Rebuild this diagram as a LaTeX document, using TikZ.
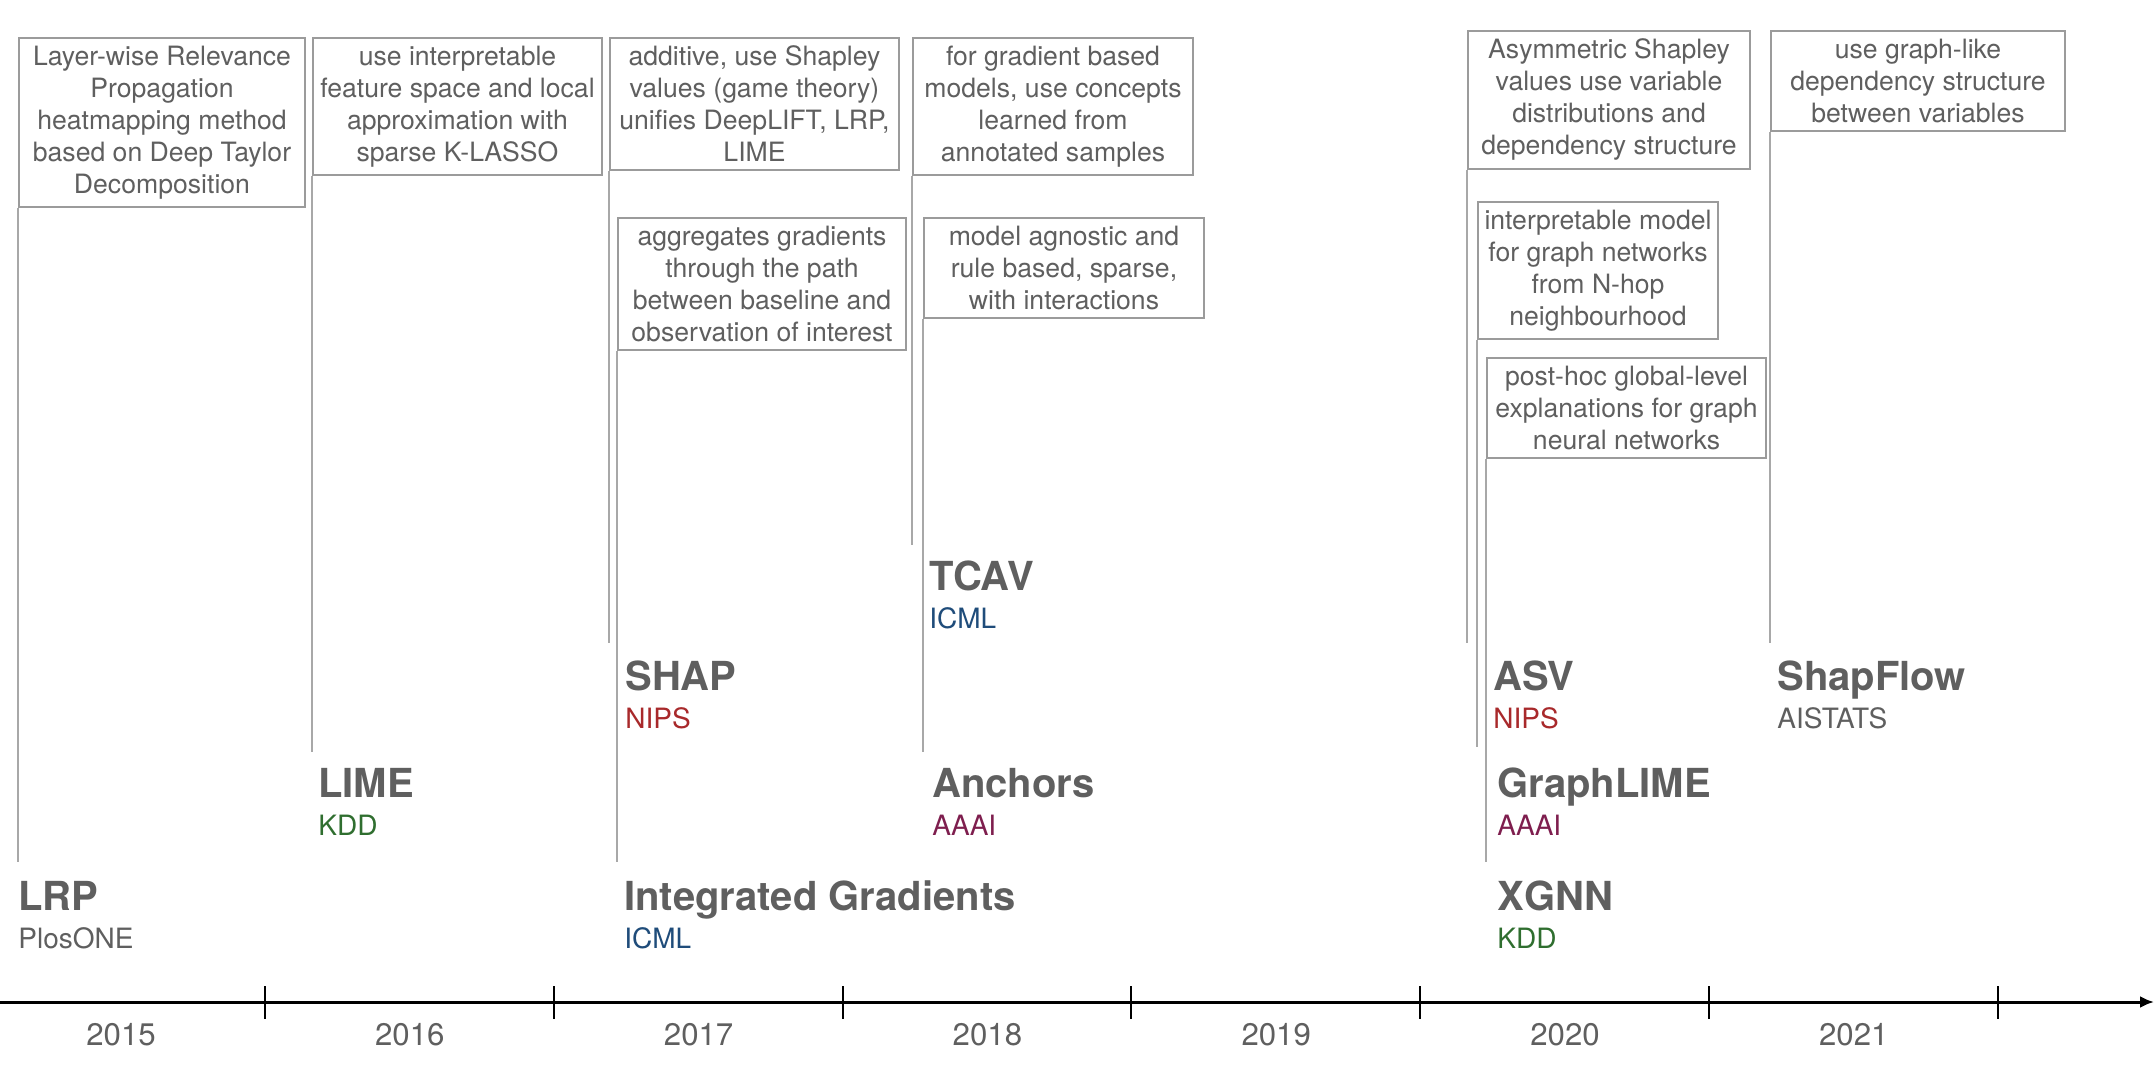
\documentclass[tikz,border=0pt]{standalone}
\usepackage{fontspec}
\setmainfont{TeX Gyre Heros}
\usetikzlibrary{arrows.meta}
\definecolor{txtgray}{HTML}{5F5F5F}
\definecolor{boxgray}{HTML}{9B9B9B}
\definecolor{stemgray}{HTML}{A8A8A8}
\definecolor{nipsred}{HTML}{A8292B}
\definecolor{kddgreen}{HTML}{2F6E2F}
\definecolor{icmlblue}{HTML}{1F4C7A}
\definecolor{aaaiplum}{HTML}{7E1E4E}

\tikzset{
  descbox/.style={draw=boxgray, line width=1pt, fill=white, text=txtgray, align=center,
    anchor=north west, inner xsep=2pt, inner ysep=4pt, font=\fontsize{13.3}{16}\selectfont},
  method/.style={anchor=base west, inner sep=0pt, text=txtgray, font=\fontsize{20}{24}\selectfont\bfseries},
  venue/.style={anchor=base west, inner sep=0pt, font=\fontsize{14}{17}\selectfont},
  stem/.style={draw=stemgray, line width=1pt},
  yearlbl/.style={anchor=base, text=txtgray, font=\fontsize{15.6}{18}\selectfont},
}

\begin{document}
\begin{tikzpicture}[x=0.5pt, y=-0.5pt]
    \useasboundingbox (0,0) rectangle (2156,1090);

    % Description boxes
    \node[descbox, minimum width=143pt] (lrpbox) at (18,37) {Layer-wise Relevance\\Propagation\\heatmapping method\\based on Deep Taylor\\Decomposition};
    \node[descbox, minimum width=144.5pt] (limebox) at (312,37) {use interpretable\\feature space and local\\approximation with\\sparse K-LASSO};
    \node[descbox, minimum width=144.5pt] (shapbox) at (609,37) {additive, use Shapley\\values (game theory)\\unifies DeepLIFT, LRP,\\LIME};
    \node[descbox, minimum width=140pt] (tcavbox) at (912,37) {for gradient based\\models, use concepts\\learned from\\annotated samples};
    \node[descbox, minimum width=144pt] (igbox) at (617,217) {aggregates gradients\\through the path\\between baseline and\\observation of interest};
    \node[descbox, minimum width=140pt] (anchorsbox) at (923,217) {model agnostic and\\rule based, sparse,\\with interactions};
    \node[descbox, minimum width=141pt] (asvbox) at (1467,30) {Asymmetric Shapley\\values use variable\\distributions and\\dependency structure};
    \node[descbox, minimum width=147pt] (shapflowbox) at (1770,30) {use graph-like\\dependency structure\\between variables};
    \node[descbox, minimum width=120pt] (graphlimebox) at (1477,201) {interpretable model\\for graph networks\\from N-hop\\neighbourhood};
    \node[descbox, minimum width=139.5pt] (xgnnbox) at (1486,357) {post-hoc global-level\\explanations for graph\\neural networks};

    % Stem ends
    \coordinate (lrpend) at (18,862);
    \coordinate (limeend) at (312,752);
    \coordinate (shapend) at (609,643);
    \coordinate (tcavend) at (912,545);
    \coordinate (igend) at (617,862);
    \coordinate (anchorsend) at (923,752);
    \coordinate (asvend) at (1467,643);
    \coordinate (shapflowend) at (1770,643);
    \coordinate (graphlimeend) at (1477,747);
    \coordinate (xgnnend) at (1486,862);

    % Stems
    \draw[stem] (lrpbox.south west) -- (lrpend);
    \draw[stem] (limebox.south west) -- (limeend);
    \draw[stem] (shapbox.south west) -- (shapend);
    \draw[stem] (tcavbox.south west) -- (tcavend);
    \draw[stem] (igbox.south west) -- (igend);
    \draw[stem] (anchorsbox.south west) -- (anchorsend);
    \draw[stem] (asvbox.south west) -- (asvend);
    \draw[stem] (shapflowbox.south west) -- (shapflowend);
    \draw[stem] (graphlimebox.south west) -- (graphlimeend);
    \draw[stem] (xgnnbox.south west) -- (xgnnend);

    % Methods
    \node[method] (lrp) at (18,910) {LRP};
    \node[method] (lime) at (318,797) {LIME};
    \node[method] (shap) at (625,690) {SHAP};
    \node[method] (ig) at (624,910) {Integrated Gradients};
    \node[method] (tcav) at (929,590) {TCAV};
    \node[method] (anchors) at (932,797) {Anchors};
    \node[method] (asv) at (1493,690) {ASV};
    \node[method] (graphlime) at (1497,797) {GraphLIME};
    \node[method] (xgnn) at (1497,910) {XGNN};
    \node[method] (shapflow) at (1777,690) {ShapFlow};

    % Venues
    \node[venue, text=txtgray] (lrpvenue) at ([yshift=-19pt]lrp.base west) {PlosONE};
    \node[venue, text=kddgreen] (limevenue) at ([yshift=-19pt]lime.base west) {KDD};
    \node[venue, text=nipsred] (shapvenue) at ([yshift=-19pt]shap.base west) {NIPS};
    \node[venue, text=icmlblue] (igvenue) at ([yshift=-19pt]ig.base west) {ICML};
    \node[venue, text=icmlblue] (tcavvenue) at ([yshift=-19pt]tcav.base west) {ICML};
    \node[venue, text=aaaiplum] (anchorsvenue) at ([yshift=-19pt]anchors.base west) {AAAI};
    \node[venue, text=nipsred] (asvvenue) at ([yshift=-19pt]asv.base west) {NIPS};
    \node[venue, text=aaaiplum] (graphlimevenue) at ([yshift=-19pt]graphlime.base west) {AAAI};
    \node[venue, text=kddgreen] (xgnnvenue) at ([yshift=-19pt]xgnn.base west) {KDD};
    \node[venue, text=txtgray] (shapflowvenue) at ([yshift=-19pt]shapflow.base west) {AISTATS};

    % Time axis
    \coordinate (axisstart) at (0,1002);
    \coordinate (axisend) at (2154,1002);
    \draw[line width=1.5pt, -{Latex[length=7pt,width=6pt]}] (axisstart) -- (axisend);
    \foreach \yr [count=\i from 0] in {2015,...,2021} {
        \draw[line width=1pt] ({265+288.8*\i},986) -- ({265+288.8*\i},1019);
        \node[yearlbl] (y\yr) at ({121+288.8*\i},1045) {\yr};
    }
\end{tikzpicture}
\end{document}
